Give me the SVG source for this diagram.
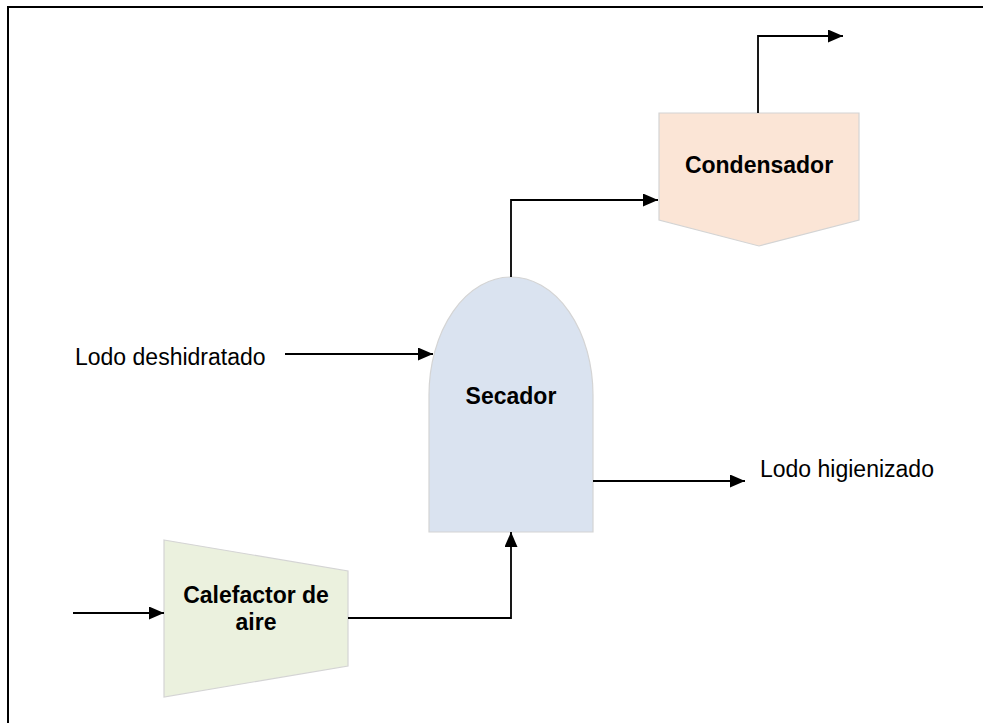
<svg xmlns="http://www.w3.org/2000/svg" width="983" height="723" viewBox="0 0 983 723">
  <defs>
    <marker id="arrow" viewBox="0 0 15 13" refX="15" refY="6.5" markerWidth="15" markerHeight="13" markerUnits="userSpaceOnUse" orient="auto">
      <path d="M0,0 L15,6.5 L0,13 Z" fill="#000"/>
    </marker>
    <style>
      .unit { stroke: #d4d4d4; stroke-width: 1.2; }
      .title { font-family: "Liberation Sans", Arial, sans-serif; font-size: 23px; font-weight: bold; fill: #000; text-anchor: middle; }
      .label { font-family: "Liberation Sans", Arial, sans-serif; font-size: 23px; fill: #000; }
      .flow { fill: none; stroke: #000; stroke-width: 1.8; marker-end: url(#arrow); }
    </style>
  </defs>

  <rect width="983" height="723" fill="#fff"/>
  <!-- outer frame -->
  <rect x="8" y="7" width="1000" height="800" fill="none" stroke="#000" stroke-width="2"/>

  <g id="condensador">
    <path class="unit" d="M659,113 L859,113 L859,220 L759,246 L659,220 Z" fill="#fbe5d6"/>
    <text class="title" x="759" y="173">Condensador</text>
  </g>

  <g id="secador">
    <path class="unit" d="M429,532 L429,395 A82,118 0 0 1 593,395 L593,532 Z" fill="#dae3f0"/>
    <text class="title" x="511" y="404">Secador</text>
  </g>

  <g id="calefactor">
    <path class="unit" d="M164,540 L348,571 L348,666 L164,697 Z" fill="#ebf1de"/>
    <text class="title" x="256" y="603">Calefactor de</text>
    <text class="title" x="256" y="630">aire</text>
  </g>

  <g id="lodo-deshidratado">
    <text class="label" x="75" y="365">Lodo deshidratado</text>
  </g>

  <g id="lodo-higienizado">
    <text class="label" x="760" y="477">Lodo higienizado</text>
  </g>

  <g id="connectors">
    <path class="flow" d="M758,113 L758,36 L843,36"/>
    <path class="flow" d="M511,277 L511,200 L658,200"/>
    <path class="flow" d="M285,354 L433,354"/>
    <path class="flow" d="M593,481 L745,481"/>
    <path class="flow" d="M73,613 L164,613"/>
    <path class="flow" d="M348,618 L511,618 L511,532"/>
  </g>
</svg>
